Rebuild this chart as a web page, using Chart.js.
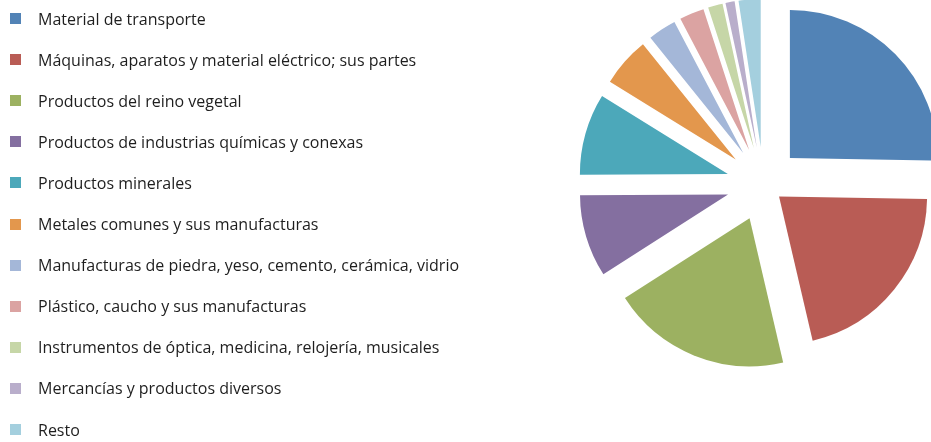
<!DOCTYPE html>
<html><head><meta charset="utf-8">
<script src="https://cdn.jsdelivr.net/npm/chart.js@4/dist/chart.umd.min.js"></script>
<style>
html,body{margin:0;padding:0;background:#fff;overflow:hidden;width:931px;height:442px;}
#wrap{position:relative;width:931px;height:442px;}
#chart{position:absolute;left:0;top:0;}
#legend{position:absolute;left:0;top:0;font-family:"Open Sans",sans-serif;font-size:16px;color:#1e1e1e;}
.item{position:absolute;left:10px;height:21px;display:flex;align-items:center;white-space:nowrap;}
.box{width:11px;height:11px;margin-right:17px;flex:none;}
</style></head>
<body><div id="wrap"><canvas id="chart" width="931" height="442"></canvas><div id="legend"></div></div>
<script>
const categories = [
  "Material de transporte",
  "Máquinas, aparatos y material eléctrico; sus partes",
  "Productos del reino vegetal",
  "Productos de industrias químicas y conexas",
  "Productos minerales",
  "Metales comunes y sus manufacturas",
  "Manufacturas de piedra, yeso, cemento, cerámica, vidrio",
  "Plástico, caucho y sus manufacturas",
  "Instrumentos de óptica, medicina, relojería, musicales",
  "Mercancías y productos diversos",
  "Resto"
];
const shares = [25.3, 21.1, 19.6, 9.0, 8.9, 5.4, 3.1, 2.7, 1.6, 1.0, 2.4];
const colors = ["#5283B6","#B95C55","#9CB161","#846FA0","#4CA8BA","#E3974D","#A4B7D8","#DBA3A2","#C6D6A7","#B9AECB","#A4CFDE"];
const explode = [37, 20, 37, 37, 37, 37, 37, 37, 37, 37, 37];

// HTML legend built from the arrays
const legend = document.getElementById('legend');
categories.forEach((c, i) => {
  const it = document.createElement('div');
  it.className = 'item';
  it.style.top = (8 + i * 41.1) + 'px';
  const b = document.createElement('span');
  b.className = 'box';
  b.style.background = colors[i];
  const t = document.createElement('span');
  t.textContent = c;
  it.appendChild(b); it.appendChild(t);
  legend.appendChild(it);
});

const explodePlugin = {
  id: 'explode',
  afterDatasetUpdate(chart, args, opts) {
    args.meta.data.forEach((arc, i) => {
      const d = opts.distances[i] || 0;
      const mid = (arc.startAngle + arc.endAngle) / 2;
      arc.x += Math.cos(mid) * d;
      arc.y += Math.sin(mid) * d;
    });
  }
};

new Chart(document.getElementById('chart'), {
  type: 'pie',
  data: {
    labels: categories,
    datasets: [{
      data: shares,
      backgroundColor: colors,
      borderWidth: 0,
      clip: false
    }]
  },
  options: {
    responsive: false,
    devicePixelRatio: 1,
    animation: false,
    radius: 148,
    layout: { padding: { left: 596, right: 0, top: 0, bottom: 74 } },
    plugins: {
      legend: { display: false },
      tooltip: { enabled: false },
      explode: { distances: explode }
    }
  },
  plugins: [explodePlugin]
});
</script>
</body></html>
